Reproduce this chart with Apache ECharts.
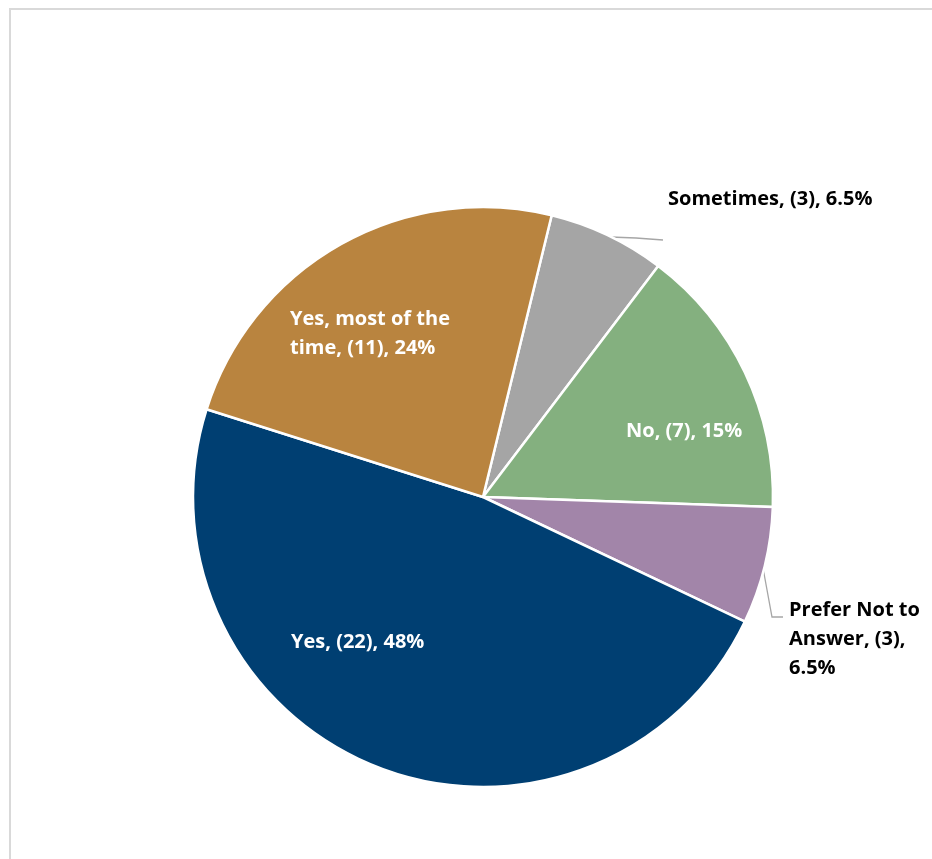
<!DOCTYPE html>
<html>
<head>
<meta charset="utf-8">
<script src="https://cdn.jsdelivr.net/npm/echarts@6/dist/echarts.min.js"></script>
<style>
  html, body { margin: 0; padding: 0; background: #fff; }
  #chart { width: 932px; height: 859px; }
</style>
</head>
<body>
<div id="chart"></div>
<script>
// data, clockwise from the top
const categories = ["Sometimes", "No", "Prefer Not to\nAnswer", "Yes", "Yes, most of the\ntime"];
const counts = [3, 7, 3, 22, 11];
const percents = ["6.5%", "15%", "6.5%", "48%", "24%"];
const colors = ["#A5A5A5", "#84B07F", "#A285A9", "#003F72", "#B9843F"];

// where each label sits (left edge / vertical middle), plus leader lines
const labelPos = [
  { x: 668, y: 199, color: "#000", line: [[610, 237], [636, 238], [663, 240]] },
  { x: 626, y: 431, color: "#fff" },
  { x: 789, y: 639, color: "#000", line: [[763, 568], [772, 617], [783, 617]] },
  { x: 291, y: 642, color: "#fff" },
  { x: 290, y: 334, color: "#fff" },
];

const chart = echarts.init(document.getElementById("chart"));

const option = {
  backgroundColor: "#fff",
  animation: false,
  graphic: [
    {
      type: "rect",
      shape: { x: 10, y: 9, width: 1000, height: 1000 },
      style: { fill: "none", stroke: "#d9d9d9", lineWidth: 2 },
      silent: true,
    },
  ],
  series: [
    {
      type: "pie",
      center: [483, 497],
      radius: 290,
      startAngle: 76.3,
      clockwise: true,
      itemStyle: { borderColor: "#fff", borderWidth: 2.5 },
      label: {
        show: true,
        fontFamily: "Open Sans",
        fontWeight: "bold",
        fontSize: 20,
        lineHeight: 29,
        align: "left",
        overflow: "none",
        formatter: (p) => {
          const i = p.dataIndex;
          if (i === 2) return "Prefer Not to\nAnswer, (" + counts[i] + "),\n" + percents[i];
          return categories[i] + ", (" + counts[i] + "), " + percents[i];
        },
      },
      labelLine: {
        show: true,
        lineStyle: { color: "#A6A6A6", width: 1.3 },
      },
      labelLayout: (params) => {
        const p = labelPos[params.dataIndex];
        const res = { x: p.x, y: p.y, align: "left", verticalAlign: "middle" };
        if (p.line) res.labelLinePoints = p.line;
        return res;
      },
      data: categories.map((c, i) => ({
        name: c,
        value: counts[i],
        itemStyle: { color: colors[i] },
        label: { color: labelPos[i].color },
        labelLine: { show: !!labelPos[i].line },
      })),
    },
  ],
};

chart.setOption(option);
</script>
</body>
</html>
